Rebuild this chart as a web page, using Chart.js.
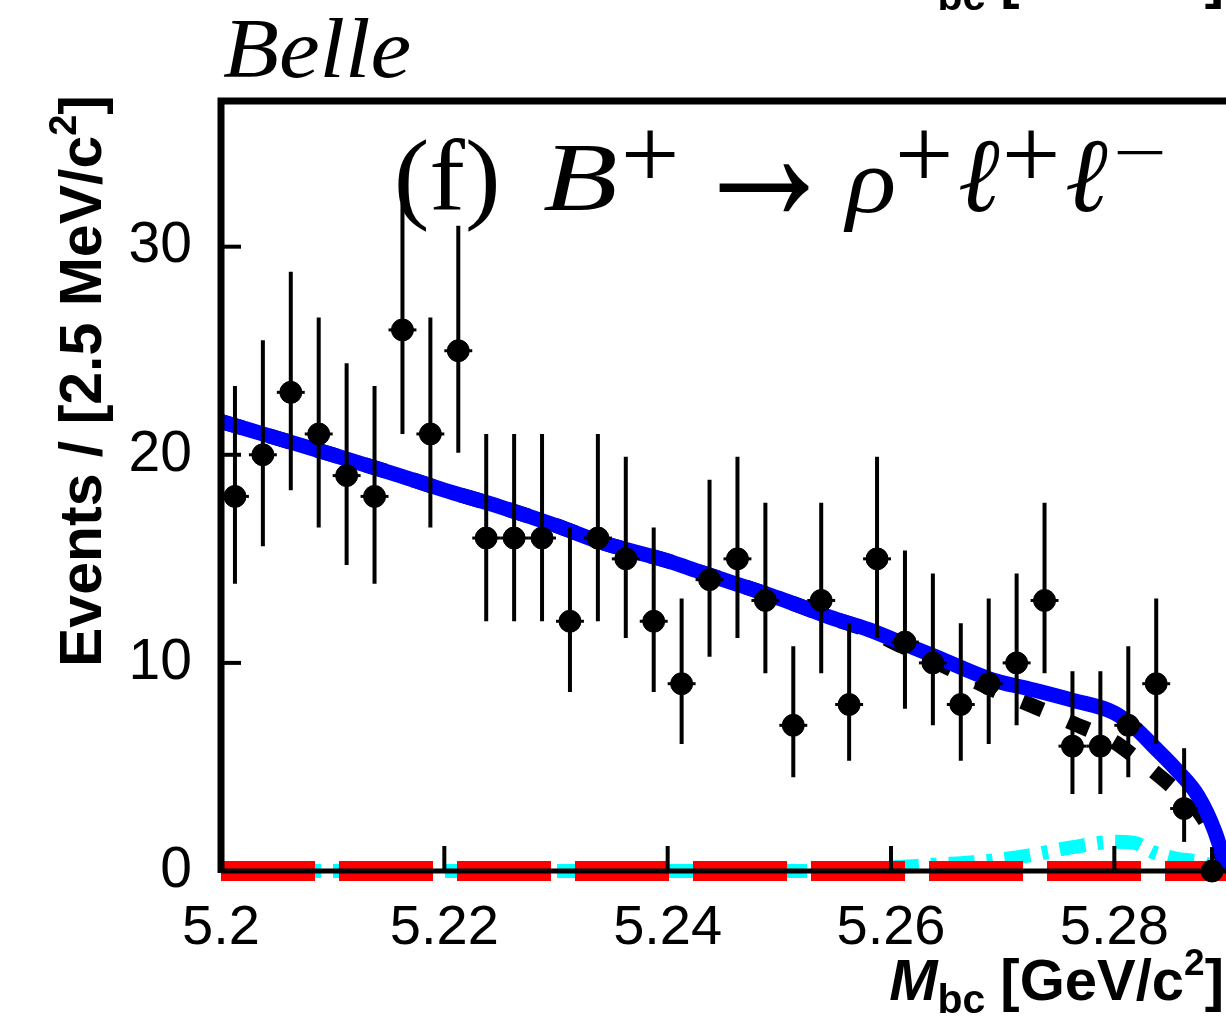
<!DOCTYPE html>
<html>
<head>
<meta charset="utf-8">
<script src="https://cdn.jsdelivr.net/npm/chart.js@4.4.0/dist/chart.umd.min.js"></script>
<style>
  html, body { margin: 0; padding: 0; background: #fff; }
  #wrap { width: 1226px; height: 1019px; }
</style>
</head>
<body>
<div id="wrap"><canvas id="mbc" width="1226" height="1019"></canvas></div>
<script>
// M_bc distribution, 2.5 MeV bins
const binCenters = [5.20125, 5.20375, 5.20625, 5.20875, 5.21125, 5.21375, 5.21625, 5.21875, 5.22125,
    5.22375, 5.22625, 5.22875, 5.23125, 5.23375, 5.23625, 5.23875, 5.24125, 5.24375,
    5.24625, 5.24875, 5.25125, 5.25375, 5.25625, 5.25875, 5.26125, 5.26375, 5.26625,
    5.26875, 5.27125, 5.27375, 5.27625, 5.27875, 5.28125, 5.28375, 5.28625, 5.28875]
const binHalf = 0.00125
const counts = [18, 20, 23, 21, 19, 18, 26, 21, 25, 16, 16, 16, 12, 16, 15, 12, 9, 14,
    15, 13, 7, 13, 8, 15, 11, 10, 8, 9, 10, 13, 6, 6, 7, 9, 3, 0]
const errLow = [13.8, 15.6, 18.3, 16.5, 14.7, 13.8, 21.0, 16.5, 20.1, 12.0, 12.0, 12.0, 8.6, 12.0, 11.2, 8.6, 6.1, 10.3,
    11.2, 9.5, 4.5, 9.5, 5.3, 11.2, 7.8, 7.0, 5.3, 6.1, 7.0, 9.5, 3.7, 3.7, 4.5, 6.1, 1.4, 0]
const errHigh = [23.3, 25.5, 28.8, 26.6, 24.4, 23.3, 32.1, 26.6, 31.0, 21.0, 21.0, 21.0, 16.5, 21.0, 19.9, 16.5, 13.1, 18.8,
    19.9, 17.7, 10.8, 17.7, 11.9, 19.9, 15.4, 14.3, 11.9, 13.1, 14.3, 17.7, 9.6, 9.6, 10.8, 13.1, 5.9, 1.15]

// fit curves
const fitX = [5.2, 5.205, 5.21, 5.216, 5.22, 5.225, 5.23, 5.234, 5.24, 5.243, 5.25, 5.2545, 5.258,
    5.261, 5.264, 5.269, 5.2724, 5.2763, 5.28, 5.2818, 5.2835, 5.2855, 5.2875, 5.289, 5.2898, 5.29]
const totalFit = [21.6, 20.8, 20.0, 19.0, 18.3, 17.5, 16.6, 15.8, 14.9, 14.35, 13.1, 12.2, 11.6,
    10.95, 10.3, 9.2, 8.75, 8.2, 7.6, 6.9, 6.0, 4.9, 3.6, 1.9, 0.5, 0]
const bkgFit = [21.6, 20.8, 20.0, 19.0, 18.3, 17.5, 16.6, 15.8, 14.9, 14.35, 13.1, 12.2, 11.55,
    10.8, 10.05, 8.75, 8.0, 7.1, 6.2, 5.5, 4.8, 3.9, 2.9, 1.5, 0.35, 0]
const peakFit = [0, 0, 0, 0, 0, 0, 0, 0, 0, 0, 0, 0.02, 0.1,
    0.2, 0.3, 0.5, 0.75, 1.15, 1.4, 1.35, 0.9, 0.6, 0.45, 0.2, 0.05, 0]
const sigFit = [0, 0, 0, 0, 0, 0, 0, 0, 0, 0, 0, 0, 0,
    0, 0, 0, 0, 0, 0, 0, 0, 0, 0, 0, 0, 0]

const xTicks = [5.2, 5.22, 5.24, 5.26, 5.28]
const yTicks = [0, 10, 20, 30]

const SANS = '"Liberation Sans", Arial, sans-serif'
const SERIF = '"Liberation Serif", "Times New Roman", serif'

const pts = arr => fitX.map((x, i) => ({ x: x, y: arr[i] }))

// draws a row of text pieces, each with its own font and shift
function drawRuns(ctx, runs, x, y, align) {
    let w = 0
    runs.forEach(r => { ctx.font = r.font; w += ctx.measureText(r.t).width + (r.dx || 0) })
    let cx = align === 'right' ? x - w : x
    runs.forEach(r => {
        ctx.font = r.font
        ctx.fillText(r.t, cx, y + (r.dy || 0))
        cx += ctx.measureText(r.t).width + (r.dx || 0)
    })
}

// stretches a glyph group so its ink fills the box [left, top, right, bottom]
function fitText(ctx, t, font, box) {
    ctx.font = font
    const m = ctx.measureText(t)
    const w = m.actualBoundingBoxLeft + m.actualBoundingBoxRight
    const h = m.actualBoundingBoxAscent + m.actualBoundingBoxDescent
    const sx = (box[2] - box[0]) / w, sy = (box[3] - box[1]) / h
    ctx.save()
    ctx.translate(box[0] + m.actualBoundingBoxLeft * sx, box[1] + m.actualBoundingBoxAscent * sy)
    ctx.scale(sx, sy)
    ctx.fillText(t, 0, 0)
    ctx.restore()
}

const xTitleRuns = [
    { t: 'M', font: 'italic bold 58px ' + SANS },
    { t: 'bc', font: 'bold 41px ' + SANS, dy: 13, dx: 15 },
    { t: '[GeV/c', font: 'bold 58px ' + SANS },
    { t: '2', font: 'bold 37px ' + SANS, dy: -25 },
    { t: ']', font: 'bold 58px ' + SANS }
]

const errorBars = {
    id: 'errorBars',
    beforeDatasetDraw(chart, args) {
        if (args.index !== 4) return
        const ctx = chart.ctx, xs = chart.scales.x, ys = chart.scales.y
        ctx.save()
        ctx.strokeStyle = '#000'
        ctx.lineCap = 'butt'
        binCenters.forEach((c, i) => {
            const px = xs.getPixelForValue(c)
            ctx.lineWidth = 4
            ctx.beginPath()
            ctx.moveTo(px, ys.getPixelForValue(errLow[i]))
            ctx.lineTo(px, ys.getPixelForValue(errHigh[i]))
            ctx.stroke()
            ctx.lineWidth = 3
            const py = ys.getPixelForValue(counts[i])
            ctx.beginPath()
            ctx.moveTo(xs.getPixelForValue(c - binHalf), py)
            ctx.lineTo(xs.getPixelForValue(c + binHalf), py)
            ctx.stroke()
        })
        ctx.restore()
    }
}

const frameAndText = {
    id: 'frameAndText',
    afterDatasetsDraw(chart) {
        const ctx = chart.ctx, a = chart.chartArea, xs = chart.scales.x, ys = chart.scales.y
        ctx.save()
        ctx.strokeStyle = '#000'
        // inward ticks
        ctx.lineWidth = 4
        xs.ticks.forEach(t => {
            const px = xs.getPixelForValue(t.value)
            ctx.beginPath(); ctx.moveTo(px, a.bottom); ctx.lineTo(px, a.bottom - 25); ctx.stroke()
        })
        ys.ticks.forEach(t => {
            const py = ys.getPixelForValue(t.value)
            ctx.beginPath(); ctx.moveTo(a.left, py); ctx.lineTo(a.left + 20, py); ctx.stroke()
        })
        // frame
        ctx.lineWidth = 5
        ctx.beginPath(); ctx.moveTo(a.left, a.bottom); ctx.lineTo(a.right, a.bottom); ctx.stroke()
        ctx.lineWidth = 7
        ctx.beginPath()
        ctx.moveTo(a.right, a.top); ctx.lineTo(a.left, a.top); ctx.lineTo(a.left, a.bottom + 2)
        ctx.stroke()

        ctx.fillStyle = '#000'
        ctx.textBaseline = 'alphabetic'
        ctx.textAlign = 'left'
        fitText(ctx, 'Belle', 'italic 88px ' + SERIF, [223, 18, 410, 78])
        // channel label (f) B+ -> rho+ l+ l-
        const rm = '100px ' + SERIF, it = 'italic 100px ' + SERIF
        fitText(ctx, '(f)', rm, [398, 138, 496, 232])
        fitText(ctx, 'B', it, [543, 147, 615, 211])
        fitText(ctx, '+', rm, [625, 130, 675, 178])
        fitText(ctx, '\u2192', rm, [719, 163, 809, 211])
        fitText(ctx, '\u03C1', it, [843, 168, 893, 232])
        fitText(ctx, '+', rm, [899, 130, 949, 178])
        fitText(ctx, '\u2113', it, [960, 140, 1000, 212])
        fitText(ctx, '+', rm, [1006, 130, 1056, 178])
        fitText(ctx, '\u2113', it, [1067, 140, 1108, 212])
        fitText(ctx, '\u2212', rm, [1117, 151, 1163, 155])
        // x title (and the cut-off one of the panel above)
        drawRuns(ctx, xTitleRuns, 1224, 1000, 'right')
        drawRuns(ctx, xTitleRuns, 1224, -3, 'right')
        // y title
        ctx.translate(101, 95)
        ctx.rotate(-Math.PI / 2)
        drawRuns(ctx, [
            { t: 'Events / [2.5 MeV/c', font: 'bold 59px ' + SANS },
            { t: '2', font: 'bold 38px ' + SANS, dy: -25 },
            { t: ']', font: 'bold 59px ' + SANS }
        ], 0, 0, 'right')
        ctx.restore()
    }
}

const ctx = document.getElementById('mbc').getContext('2d')
const chart = new Chart(ctx, {
    type: 'scatter',
    data: {
        datasets: [
            { type: 'line', label: 'peaking', data: pts(peakFit), borderColor: '#00ffff', borderWidth: 14,
              borderDash: [26, 12, 6, 12], pointRadius: 0, fill: false, cubicInterpolationMode: 'monotone', order: 5, clip: false },
            { type: 'line', label: 'signal', data: pts(sigFit), borderColor: '#ff0000', borderWidth: 20,
              borderDash: [94, 24], pointRadius: 0, fill: false, order: 4, clip: false },
            { type: 'line', label: 'background', data: pts(bkgFit), borderColor: '#000', borderWidth: 15,
              borderDash: [22, 28], pointRadius: 0, fill: false, cubicInterpolationMode: 'monotone', order: 3, clip: false },
            { type: 'line', label: 'total', data: pts(totalFit), borderColor: '#0000ff', borderWidth: 15,
              pointRadius: 0, fill: false, cubicInterpolationMode: 'monotone', order: 2, clip: false },
            { label: 'data', data: binCenters.map((x, i) => ({ x: x, y: counts[i] })),
              backgroundColor: '#000', borderColor: '#000', pointRadius: 11, pointHoverRadius: 11, order: 1, clip: false }
        ]
    },
    options: {
        responsive: false,
        animation: false,
        devicePixelRatio: 1,
        layout: { autoPadding: false, padding: { top: 101, right: 0, left: 0, bottom: 0 } },
        plugins: { legend: { display: false }, tooltip: { enabled: false } },
        scales: {
            x: {
                type: 'linear', min: 5.2, max: 5.29,
                afterFit: s => { s.height = 148; s.paddingLeft = 0; s.paddingRight = 0 },
                afterBuildTicks: s => { s.ticks = xTicks.map(v => ({ value: v })) },
                grid: { display: false, drawTicks: false },
                border: { display: false },
                ticks: {
                    font: { size: 56, family: SANS }, color: '#000', padding: 24,
                    maxRotation: 0, autoSkip: false,
                    callback: v => String(Math.round(v * 100) / 100)
                }
            },
            y: {
                min: 0, max: 37,
                afterFit: s => { s.width = 221; s.paddingTop = 0; s.paddingBottom = 0 },
                afterBuildTicks: s => { s.ticks = yTicks.map(v => ({ value: v })) },
                grid: { display: false, drawTicks: false },
                border: { display: false },
                ticks: { font: { size: 57, family: SANS }, color: '#000', padding: 29 }
            }
        }
    },
    plugins: [errorBars, frameAndText]
})
</script>
</body>
</html>
